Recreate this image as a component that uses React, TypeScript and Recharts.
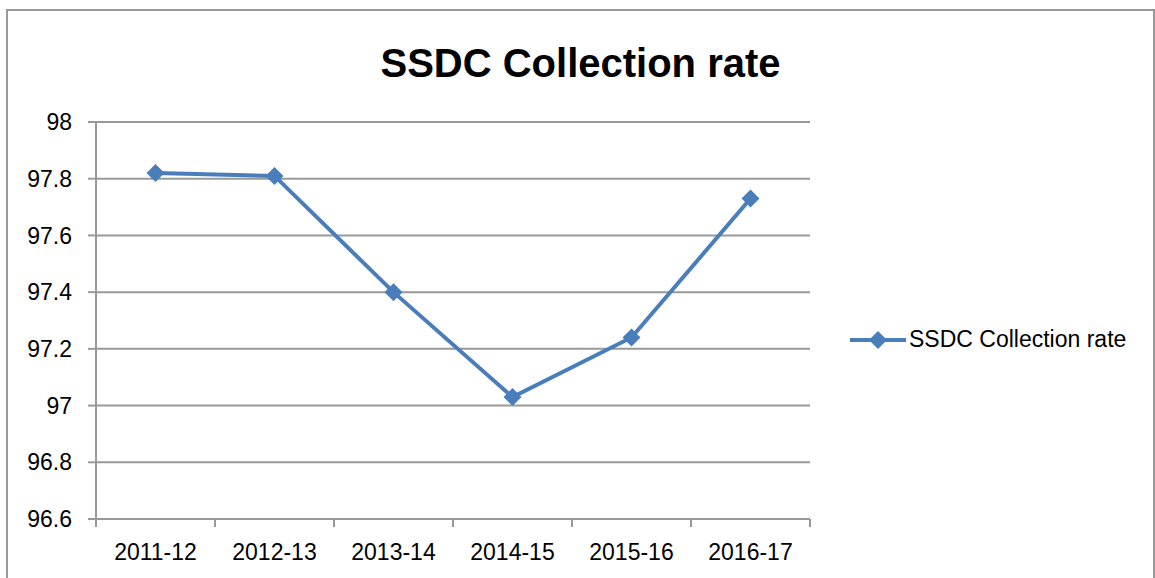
import React from 'react';
import { LineChart, Line, XAxis, YAxis, CartesianGrid, Legend } from 'recharts';

const categories = ['2011-12', '2012-13', '2013-14', '2014-15', '2015-16', '2016-17'];
const collectionRate = [97.82, 97.81, 97.4, 97.03, 97.24, 97.73];
const yTicks = [96.6, 96.8, 97, 97.2, 97.4, 97.6, 97.8, 98];
const seriesName = 'SSDC Collection rate';

const data = categories.map((period, i) => ({ period, rate: collectionRate[i] }));

const BLUE = '#4a7ebb';
const GRAY = '#999999';
const FONT = '"Liberation Sans", Arial, sans-serif';

const Diamond = ({ cx, cy }: any) => {
  if (cx == null || cy == null) return null;
  const r = 9;
  return (
    <polygon
      points={`${cx},${cy - r} ${cx + r},${cy} ${cx},${cy + r} ${cx - r},${cy}`}
      fill={BLUE}
    />
  );
};

// category label centred in its band, tick marks on the band edges (Excel style)
const CategoryTick = ({ x, y, payload, index }: any) => {
  const half = payload?.offset ?? 0;
  const last = index === categories.length - 1;
  return (
    <g>
      <line x1={x - half} y1={y} x2={x - half} y2={y + 8} stroke={GRAY} strokeWidth={2} />
      {last && <line x1={x + half} y1={y} x2={x + half} y2={y + 8} stroke={GRAY} strokeWidth={2} />}
      <text x={x} y={y + 25} dy="0.71em" textAnchor="middle" fill="#000" fontSize={23} fontFamily={FONT}>
        {payload.value}
      </text>
    </g>
  );
};

const LegendContent = () => (
  <div style={{ display: 'flex', alignItems: 'center', fontFamily: FONT, fontSize: 23, color: '#000' }}>
    <svg width={58} height={20}>
      <line x1={0} y1={10} x2={56} y2={10} stroke={BLUE} strokeWidth={4} />
      <polygon points="28,1 37,10 28,19 19,10" fill={BLUE} />
    </svg>
    <span style={{ marginLeft: 1 }}>{seriesName}</span>
  </div>
);

const App = () => {
  return (
    <div
      style={{
        position: 'absolute',
        left: 6,
        top: 9,
        width: 1145,
        height: 580,
        border: `2px solid ${GRAY}`,
        borderBottom: 'none',
        background: '#fff',
      }}
    >
      <div
        style={{
          position: 'absolute',
          left: 0,
          top: 32,
          width: 1145,
          textAlign: 'center',
          fontFamily: FONT,
          fontWeight: 'bold',
          fontSize: 40,
          lineHeight: '40px',
          color: '#000',
        }}
      >
        {seriesName}
      </div>
      <LineChart
        width={1145}
        height={567}
        data={data}
        margin={{ top: 111, right: 343, bottom: 8, left: 28 }}
        style={{ fontFamily: FONT }}
      >
        <CartesianGrid horizontal vertical={false} stroke={GRAY} strokeWidth={2} />
        <XAxis
          dataKey="period"
          scale="band"
          height={51}
          tickSize={0}
          tickMargin={0}
          interval={0}
          axisLine={{ stroke: GRAY, strokeWidth: 2 }}
          tickLine={false}
          tick={<CategoryTick />}
        />
        <YAxis
          domain={[96.6, 98]}
          ticks={yTicks}
          interval={0}
          width={60}
          tickSize={8}
          tickMargin={16}
          tickFormatter={(v: number) => String(Number(v.toFixed(1)))}
          axisLine={{ stroke: GRAY, strokeWidth: 2 }}
          tickLine={{ stroke: GRAY, strokeWidth: 2 }}
          tick={{ fill: '#000', fontSize: 23 }}
        />
        <Legend
          layout="horizontal"
          verticalAlign="middle"
          align="center"
          content={<LegendContent />}
          wrapperStyle={{ position: 'absolute', left: 842, top: 315, width: 300 }}
        />
        <Line
          type="linear"
          dataKey="rate"
          name={seriesName}
          stroke={BLUE}
          strokeWidth={4}
          dot={(p: any) => <Diamond key={p.index} {...p} />}
          activeDot={false}
          isAnimationActive={false}
        />
      </LineChart>
    </div>
  );
};

export default App;
